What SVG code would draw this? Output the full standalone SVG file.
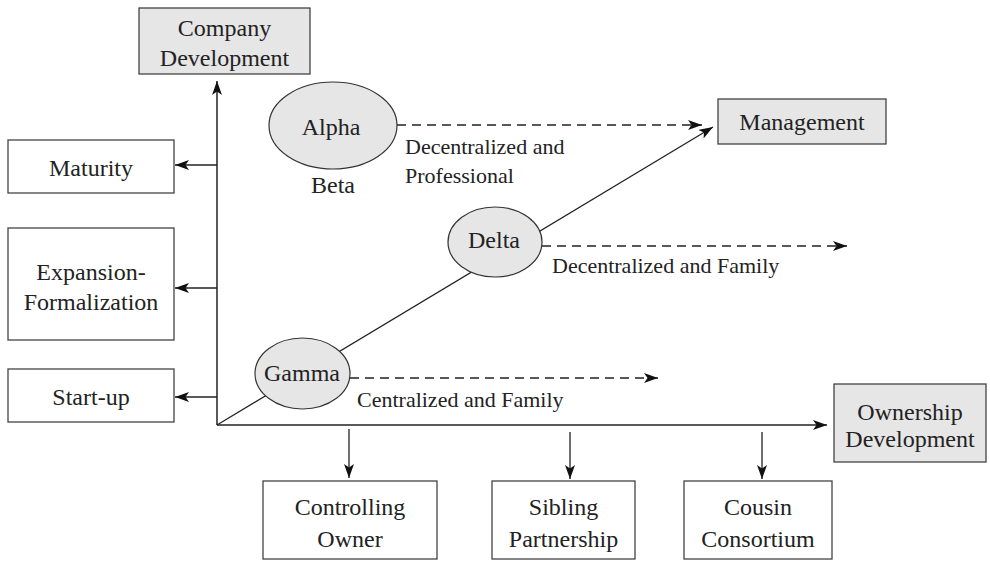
<svg xmlns="http://www.w3.org/2000/svg" width="990" height="562" viewBox="0 0 990 562">
<style>
.box{fill:#ffffff;stroke:#444;stroke-width:1.3}
.hl{fill:#e6e6e6;stroke:#444;stroke-width:1.3}
.ell{fill:#e6e6e6;stroke:#333;stroke-width:1.2}
.t{font-family:"Liberation Serif","Times New Roman",serif;font-size:24px;fill:#222;text-anchor:middle}
.s{font-family:"Liberation Serif","Times New Roman",serif;font-size:22px;fill:#222}
.ln{stroke:#222;stroke-width:1.3;fill:none}
.ax{stroke:#222;stroke-width:1.5;fill:none}
.dash{stroke:#222;stroke-width:1.3;fill:none;stroke-dasharray:9,6}
</style>
<defs>
<marker id="ah" viewBox="0 0 14 10" refX="14" refY="5" markerWidth="14" markerHeight="10" markerUnits="userSpaceOnUse" orient="auto">
<path d="M0,0 L14,5 L0,10 L3.5,5 z" fill="#111"/>
</marker>
</defs>
<g id="connectors">
<line class="ax" x1="217" y1="425" x2="217" y2="81" marker-end="url(#ah)"/>
<line class="ax" x1="217" y1="425" x2="827" y2="425" marker-end="url(#ah)"/>
<line class="ln" x1="217" y1="425" x2="713" y2="127" marker-end="url(#ah)"/>
<line class="ln" x1="217" y1="165" x2="175" y2="165" marker-end="url(#ah)"/>
<line class="ln" x1="217" y1="288" x2="175" y2="288" marker-end="url(#ah)"/>
<line class="ln" x1="217" y1="397" x2="175" y2="397" marker-end="url(#ah)"/>
<line class="ln" x1="349" y1="429" x2="349" y2="478" marker-end="url(#ah)"/>
<line class="ln" x1="570" y1="432" x2="570" y2="479" marker-end="url(#ah)"/>
<line class="ln" x1="762" y1="432" x2="762" y2="479" marker-end="url(#ah)"/>
<line class="dash" x1="397" y1="125" x2="702" y2="125" marker-end="url(#ah)"/>
<line class="dash" x1="542" y1="246" x2="847" y2="246" marker-end="url(#ah)"/>
<line class="dash" x1="350" y1="378" x2="658" y2="378" marker-end="url(#ah)"/>
</g>
<g id="company-development">
<rect class="hl" x="139" y="8" width="171" height="66"/>
<text class="t" x="224.5" y="36">Company</text>
<text class="t" x="224.5" y="66">Development</text>
</g>
<g id="maturity">
<rect class="box" x="8" y="140" width="166" height="53"/>
<text class="t" x="91" y="176">Maturity</text>
</g>
<g id="expansion">
<rect class="box" x="8" y="228" width="166" height="112"/>
<text class="t" x="91" y="280">Expansion-</text>
<text class="t" x="91" y="310">Formalization</text>
</g>
<g id="startup">
<rect class="box" x="8" y="369" width="166" height="53"/>
<text class="t" x="91" y="405">Start-up</text>
</g>
<g id="alpha">
<ellipse class="ell" cx="333" cy="125.5" rx="64" ry="43.5"/>
<text class="t" x="331" y="135">Alpha</text>
<text class="t" x="333" y="193">Beta</text>
</g>
<g id="alpha-label">
<text class="s" x="405" y="154">Decentralized and</text>
<text class="s" x="405" y="183">Professional</text>
</g>
<g id="management">
<rect class="hl" x="718" y="99" width="168" height="45"/>
<text class="t" x="802" y="130">Management</text>
</g>
<g id="delta">
<ellipse class="ell" cx="495" cy="242" rx="47" ry="35"/>
<text class="t" x="494" y="248">Delta</text>
<text class="s" x="552" y="273">Decentralized and Family</text>
</g>
<g id="gamma">
<ellipse class="ell" cx="302.5" cy="373.5" rx="47.5" ry="35.5"/>
<text class="t" x="302" y="381">Gamma</text>
<text class="s" x="357" y="407">Centralized and Family</text>
</g>
<g id="ownership-development">
<rect class="hl" x="834" y="384" width="152" height="78"/>
<text class="t" x="910" y="420">Ownership</text>
<text class="t" x="910" y="447">Development</text>
</g>
<g id="controlling-owner">
<rect class="box" x="263" y="481" width="174" height="78"/>
<text class="t" x="350" y="515">Controlling</text>
<text class="t" x="350" y="547">Owner</text>
</g>
<g id="sibling-partnership">
<rect class="box" x="492" y="481" width="143" height="78"/>
<text class="t" x="563.5" y="515">Sibling</text>
<text class="t" x="563.5" y="547">Partnership</text>
</g>
<g id="cousin-consortium">
<rect class="box" x="684" y="481" width="148" height="78"/>
<text class="t" x="758" y="515">Cousin</text>
<text class="t" x="758" y="547">Consortium</text>
</g>
</svg>
